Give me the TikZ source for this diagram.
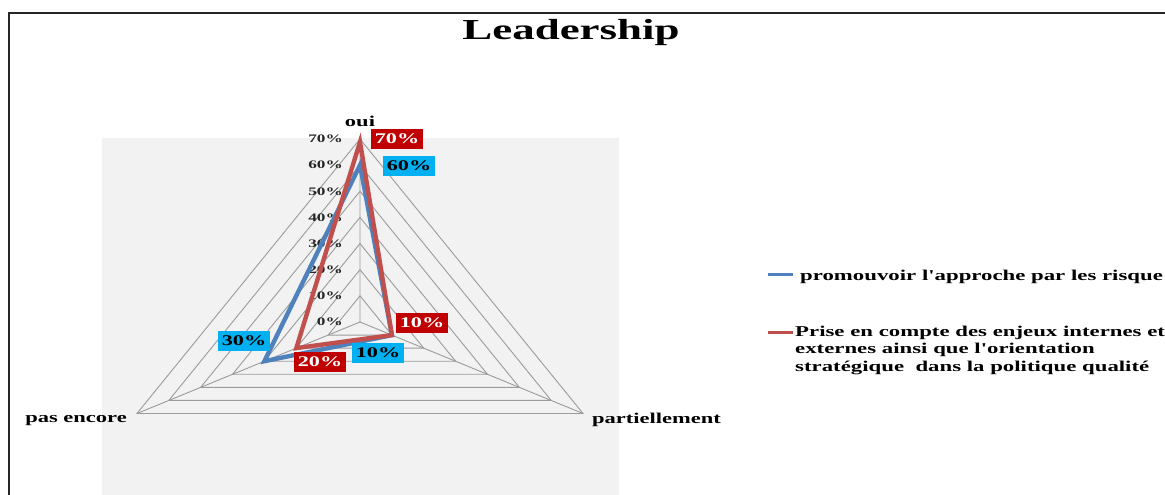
\documentclass[tikz,border=0pt]{standalone}
\usepackage{fontspec}
\setmainfont{Liberation Serif}
\definecolor{sblue}{RGB}{79,129,189}
\definecolor{sred}{RGB}{192,80,77}
\definecolor{lblue}{RGB}{0,176,240}
\definecolor{lred}{RGB}{192,0,0}
\definecolor{plotbg}{RGB}{242,242,242}
\definecolor{gridc}{RGB}{155,155,155}
\newcommand{\wide}[1]{\scalebox{1.5}[1]{#1}}
\newcommand{\legw}[1]{\scalebox{1.52}[1]{#1}}
\tikzset{
  catlab/.style={font=\bfseries\fontsize{15}{17}\selectfont, inner sep=0pt},
  axl/.style={font=\bfseries\fontsize{11.5}{13}\selectfont, inner sep=0pt, anchor=east, text=black!85},
  dlab/.style={font=\bfseries\fontsize{14.8}{16}\selectfont, inner sep=0pt, minimum width=52pt, minimum height=20pt},
  redlab/.style={dlab, fill=lred, text=white},
  bluelab/.style={dlab, fill=lblue, text=black},
  ring/.style={draw=gridc, line width=0.9pt},
  serie/.style={line width=4.4pt},
  legtext/.style={font=\bfseries\fontsize{15}{17.5}\selectfont, inner sep=0pt, anchor=base west},
}
\begin{document}
\begin{tikzpicture}[x=1pt,y=-1pt]
\useasboundingbox (0,0) rectangle (1165,495);
% frame
\draw[line width=1.8pt, black!85] (9,495) -- (9,13.3) -- (1165,13.3);
% plot area
\fill[plotbg] (102,138) rectangle (619,495);
% title
\node[font=\bfseries\fontsize{29}{32}\selectfont, inner sep=0pt, anchor=base] (title) at (571,40) {\scalebox{1.55}[1]{Leadership}};
% radar grid
\coordinate (O) at (360,322);
\foreach \p in {10,20,...,70} {
  \draw[ring] (360,{322-2.6143*\p}) -- ({360+1.219*2.6143*\p},{322+1.30715*\p}) -- ({360-1.219*2.6143*\p},{322+1.30715*\p}) -- cycle;
}
\coordinate (vt) at (360,139);
\coordinate (vr) at (583,413.5);
\coordinate (vl) at (137,413.5);
\draw[ring] (O) -- (vt) (O) -- (vr) (O) -- (vl);
% axis labels
\foreach \p in {0,10,...,70} {
  \node[axl] (a\p) at (343,{322-2.6143*\p}) {\wide{\p\%}};
}
% category labels
\node[catlab, anchor=base] (oui) at (360,126) {\wide{oui}};
\node[catlab, anchor=base east] (pasencore) at (127,422) {\wide{pas encore}};
\node[catlab, anchor=base west] (partiel) at (592,423) {\wide{partiellement}};
% data points
\coordinate (b1) at (360,165.1);
\coordinate (b2) at (391.9,335.1);
\coordinate (b3) at (264.4,361.2);
\coordinate (r1) at (360,142);
\coordinate (r2) at (391.9,335.1);
\coordinate (r3) at (296.3,348.1);
\draw[serie, sblue] (b1) -- (b2) -- (b3) -- cycle;
\draw[serie, sred] (r1) -- (r2) -- (r3) -- cycle;
% data labels
\node[redlab] (l70) at (397,139) {\wide{70\%}};
\node[bluelab] (l60) at (409,166) {\wide{60\%}};
\node[redlab] (l10r) at (422,323) {\wide{10\%}};
\node[bluelab] (l10b) at (378,353) {\wide{10\%}};
\node[redlab] (l20) at (320,362) {\wide{20\%}};
\node[bluelab] (l30) at (244,341) {\wide{30\%}};
% legend
\draw[sblue, line width=3pt] (768,274) -- (793,274);
\node[legtext] (leg1) at (800,280) {\legw{promouvoir l\textquotesingle approche par les risque}};
\draw[sred, line width=3pt] (768,332) -- (793,332);
\node[legtext] (leg2a) at (795,336) {\legw{Prise en compte des enjeux internes et}};
\node[legtext] (leg2b) at (795,353.5) {\legw{externes ainsi que l\textquotesingle orientation}};
\node[legtext] (leg2c) at (795,371) {\legw{stratégique\ \ dans la politique qualité}};
\end{tikzpicture}
\end{document}
